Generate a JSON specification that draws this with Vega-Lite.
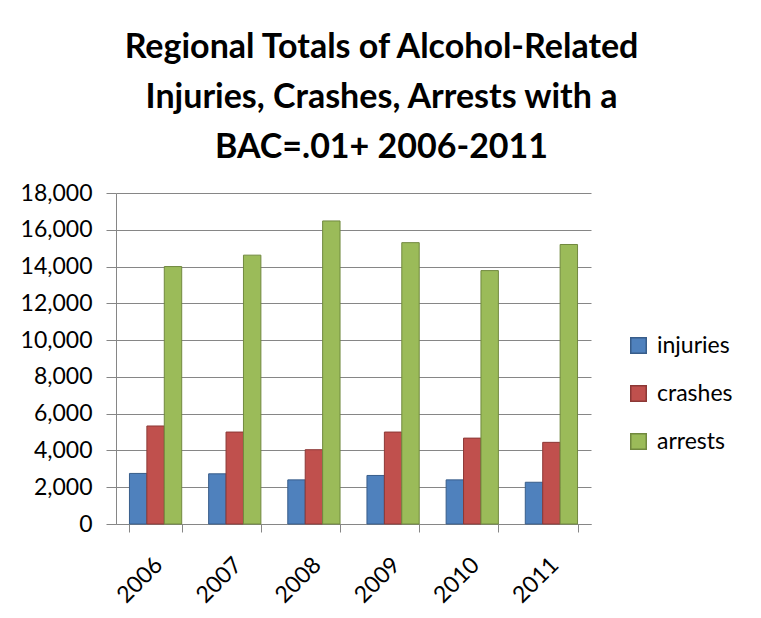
{
  "$schema": "https://vega.github.io/schema/vega-lite/v6.json",
  "width": 475,
  "height": 331,
  "autosize": "none",
  "padding": {"left": 116, "top": 193, "right": 170, "bottom": 94},
  "background": "white",
  "title": {
    "text": ["Regional Totals of Alcohol-Related", "Injuries, Crashes, Arrests with a", "BAC=.01+ 2006-2011"],
    "font": "Lato",
    "fontSize": 34,
    "fontWeight": "bold",
    "color": "#000000",
    "lineHeight": 50,
    "anchor": "middle",
    "dx": 28,
    "offset": 17
  },
  "data": {
    "values": [
      {"year": "2006", "type": "injuries", "value": 2750},
      {"year": "2006", "type": "crashes", "value": 5330},
      {"year": "2006", "type": "arrests", "value": 14000},
      {"year": "2007", "type": "injuries", "value": 2730},
      {"year": "2007", "type": "crashes", "value": 5000},
      {"year": "2007", "type": "arrests", "value": 14620},
      {"year": "2008", "type": "injuries", "value": 2400},
      {"year": "2008", "type": "crashes", "value": 4040},
      {"year": "2008", "type": "arrests", "value": 16480},
      {"year": "2009", "type": "injuries", "value": 2640},
      {"year": "2009", "type": "crashes", "value": 5000},
      {"year": "2009", "type": "arrests", "value": 15300},
      {"year": "2010", "type": "injuries", "value": 2400},
      {"year": "2010", "type": "crashes", "value": 4670},
      {"year": "2010", "type": "arrests", "value": 13780},
      {"year": "2011", "type": "injuries", "value": 2270},
      {"year": "2011", "type": "crashes", "value": 4440},
      {"year": "2011", "type": "arrests", "value": 15200}
    ]
  },
  "mark": {"type": "bar", "strokeWidth": 1},
  "encoding": {
    "x": {
      "field": "year",
      "type": "nominal",
      "scale": {"paddingInner": 0.34, "paddingOuter": 0.17},
      "axis": {
        "title": null,
        "labelAngle": -45,
        "labelAlign": "right",
        "labelBaseline": "middle",
        "labelFont": "Lato",
        "labelFontSize": 23,
        "labelColor": "#000000",
        "labelPadding": 29,
        "labelOffset": 3,
        "tickBand": "extent",
        "tickSize": 8,
        "tickColor": "#868686",
        "domainColor": "#868686",
        "grid": false
      }
    },
    "xOffset": {"field": "type", "type": "nominal", "sort": ["injuries", "crashes", "arrests"]},
    "y": {
      "field": "value",
      "type": "quantitative",
      "scale": {"domain": [0, 18000], "nice": false},
      "axis": {
        "title": null,
        "values": [0, 2000, 4000, 6000, 8000, 10000, 12000, 14000, 16000, 18000],
        "format": ",d",
        "labelFont": "Lato",
        "labelFontSize": 23,
        "labelColor": "#000000",
        "labelPadding": 14,
        "tickSize": 10,
        "tickColor": "#868686",
        "domainColor": "#868686",
        "gridColor": "#868686",
        "grid": true
      }
    },
    "color": {
      "field": "type",
      "type": "nominal",
      "sort": ["injuries", "crashes", "arrests"],
      "scale": {"domain": ["injuries", "crashes", "arrests"], "range": ["#4F81BD", "#C0504D", "#9BBB59"]},
      "legend": {
        "title": null,
        "orient": "none",
        "legendX": 511,
        "legendY": 141,
        "symbolType": "square",
        "symbolSize": 240,
        "labelFont": "Lato",
        "labelFontSize": 23,
        "labelColor": "#000000",
        "rowPadding": 24,
        "labelOffset": 7
      }
    },
    "stroke": {
      "field": "type",
      "type": "nominal",
      "scale": {"domain": ["injuries", "crashes", "arrests"], "range": ["#385D8A", "#8C3836", "#71893F"]},
      "legend": null
    }
  },
  "config": {
    "view": {"stroke": null}
  }
}
